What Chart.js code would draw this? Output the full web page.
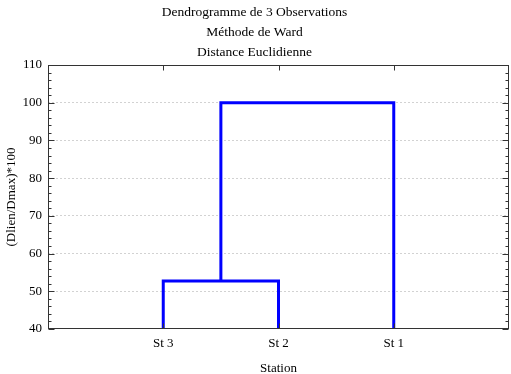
<!DOCTYPE html>
<html><head><meta charset="utf-8">
<script src="https://cdn.jsdelivr.net/npm/chart.js@4/dist/chart.umd.min.js"></script>
<style>html,body{margin:0;padding:0;background:#fff}canvas{display:block}</style>
</head><body>
<canvas id="c" width="511" height="374"></canvas>
<script>
const titleLines = ['Dendrogramme de 3 Observations', 'Méthode de Ward', 'Distance Euclidienne'];
const leafLabels = ['St 3', 'St 2', 'St 1'];
const leafBase = 40;
// merges: [leftNode, rightNode, height]; nodes 0..2 are leaves, 3.. are clusters
const merges = [[0, 1, 52.7], [3, 2, 100]];
const yTicks = [40, 50, 60, 70, 80, 90, 100, 110];
const xTitle = 'Station';
const yTitle = '(Dlien/Dmax)*100';

const FONT = 'Liberation Serif, Times New Roman, serif';
const nodeX = leafLabels.map((_, i) => i + 1);
const nodeH = leafLabels.map(() => leafBase);
const datasets = merges.map(([l, r, h]) => {
  const pts = [
    {x: nodeX[l], y: nodeH[l]}, {x: nodeX[l], y: h},
    {x: nodeX[r], y: h}, {x: nodeX[r], y: nodeH[r]}
  ];
  nodeX.push((nodeX[l] + nodeX[r]) / 2);
  nodeH.push(h);
  return {
    data: pts, showLine: true, borderColor: '#0000ff', borderWidth: 3,
    pointRadius: 0, tension: 0, fill: false, borderJoinStyle: 'miter'
  };
});

const framePlugin = {
  id: 'frame',
  afterDatasetsDraw(chart) {
    const {ctx, chartArea: a, scales: {x, y}} = chart;
    ctx.save();
    ctx.strokeStyle = '#333';
    ctx.lineWidth = 1;
    const L = Math.round(a.left) + 0.5, R = Math.round(a.right) - 0.5;
    const T = Math.round(a.top) + 0.5, B = Math.round(a.bottom) - 0.5;
    ctx.beginPath();
    const yMin = yTicks[0], yMax = yTicks[yTicks.length - 1];
    for (let v = yMin; v <= yMax; v += 2) {
      const py = Math.round(y.getPixelForValue(v)) + 0.5;
      const len = yTicks.includes(v) ? 6 : 3;
      ctx.moveTo(L, py); ctx.lineTo(L + len, py);
      ctx.moveTo(R, py); ctx.lineTo(R - len, py);
    }
    nodeX.slice(0, leafLabels.length).forEach(v => {
      const px = Math.round(x.getPixelForValue(v)) + 0.5;
      ctx.moveTo(px, T); ctx.lineTo(px, T + 5);
      ctx.moveTo(px, B); ctx.lineTo(px, B - 5);
    });
    ctx.stroke();
    ctx.strokeRect(L, T, R - L, B - T);
    ctx.restore();
  }
};

new Chart(document.getElementById('c'), {
  type: 'scatter',
  data: {datasets},
  options: {
    responsive: false,
    animation: false,
    layout: {padding: {left: 0, right: 2, top: 0, bottom: 0}},
    plugins: {
      legend: {display: false},
      tooltip: {enabled: false},
      title: {
        display: true, text: titleLines, color: '#000',
        font: {family: FONT, size: 13.5, weight: 'normal', lineHeight: '20px'},
        padding: {top: 2, bottom: 3}
      }
    },
    scales: {
      x: {
        type: 'linear', min: 0, max: 4,
        afterBuildTicks: s => { s.ticks = leafLabels.map((_, i) => ({value: i + 1})); },
        afterFit: s => { s.height = 45; },
        grid: {display: false, drawTicks: false},
        border: {display: false},
        ticks: {
          autoSkip: false, maxRotation: 0, padding: 7, color: '#000',
          font: {family: FONT, size: 13},
          callback: v => leafLabels[v - 1]
        },
        title: {
          display: true, text: xTitle, color: '#000',
          font: {family: FONT, size: 13, lineHeight: '10px'},
          padding: {top: 0, bottom: 0}
        }
      },
      y: {
        type: 'linear', min: yTicks[0], max: yTicks[yTicks.length - 1],
        afterBuildTicks: s => { s.ticks = yTicks.map(v => ({value: v})); },
        afterFit: s => { s.width = 48; },
        grid: {
          drawTicks: false,
          color: c => (c.tick && (c.tick.value === yTicks[0] || c.tick.value === yTicks[yTicks.length - 1])) ? 'rgba(0,0,0,0)' : '#d2d2d2',
          lineWidth: 1
        },
        border: {display: false, dash: [2, 2]},
        ticks: {padding: 6, color: '#000', font: {family: FONT, size: 13}},
        title: {
          display: true, text: yTitle, color: '#000',
          font: {family: FONT, size: 13},
          padding: {top: 4, bottom: 0}
        }
      }
    }
  },
  plugins: [framePlugin]
});
</script>
</body></html>
